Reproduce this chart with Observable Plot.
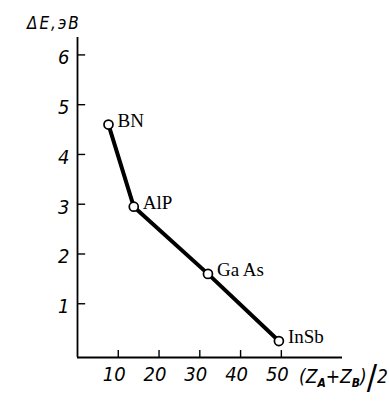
<!DOCTYPE html>
<html><head><meta charset="utf-8">
<script src="https://cdn.jsdelivr.net/npm/d3@7"></script>
<script src="https://cdn.jsdelivr.net/npm/@observablehq/plot@0.6"></script>
<style>
body{margin:0;background:#fff;}
svg{font-family:"Liberation Sans Narrow","DejaVu Sans Condensed","Liberation Sans",sans-serif;}
</style>
</head><body>
<div id="chart"></div>
<script>
const compounds = ["BN", "AlP", "Ga As", "InSb"];
const zMean = [7.6, 13.8, 32, 49.4];
const gapEV = [4.6, 2.95, 1.6, 0.25];
const xTicks = [10, 20, 30, 40, 50];
const yTicks = [1, 2, 3, 4, 5, 6];
const yLabel = "ΔE,эВ";

const data = compounds.map((c, i) => ({name: c, x: zMean[i], y: gapEV[i]}));

const W = 389, H = 402;
const plot = Plot.plot({
  width: W, height: H,
  marginLeft: 77, marginRight: 47, marginTop: 37, marginBottom: 45,
  x: {domain: [0, 65]},
  y: {domain: [-0.08, 6.35]},
  style: {fontSize: "20px", background: "#fff", color: "#000"},
  marks: [
    Plot.ruleX([0], {y1: -0.08, y2: 6.35, stroke: "#000", strokeWidth: 1.8}),
    Plot.ruleY([-0.08], {x1: 0, x2: 65, stroke: "#000", strokeWidth: 1.8}),
    Plot.ruleY(yTicks, {x1: 0, x2: 2, stroke: "#000", strokeWidth: 1.4}),
    Plot.ruleX(xTicks, {y1: -0.08, y2: 0.06, stroke: "#000", strokeWidth: 1.4}),
    Plot.axisY(yTicks, {tickSize: 0, tickPadding: 8, fontStyle: "italic", dy: 3,
      label: null, tickFormat: d => String(d)}),
    Plot.axisX(xTicks, {tickSize: 0, tickPadding: 9, fontStyle: "italic", dx: -4,
      label: null, anchor: "bottom", tickFormat: d => String(d)}),
    Plot.line(data, {x: "x", y: "y", stroke: "#000", strokeWidth: 4, strokeLinejoin: "round"}),
    Plot.dot(data, {x: "x", y: "y", r: 4.5, fill: "#fff", stroke: "#000", strokeWidth: 1.7}),
    Plot.text(data, {x: "x", y: "y", text: "name", textAnchor: "start", dx: 9, dy: -4,
      fontFamily: "Liberation Serif", fontSize: 19, fill: "#000"})
  ]
});
document.getElementById("chart").appendChild(plot);

const svg = d3.select(plot);
svg.append("text")
  .attr("x", 27).attr("y", 29).attr("text-anchor", "start")
  .attr("font-style", "italic").attr("font-size", 17).attr("letter-spacing", 2)
  .attr("fill", "#000")
  .text(yLabel);

const xl = svg.append("text")
  .attr("x", 299).attr("y", 383).attr("text-anchor", "start")
  .attr("font-style", "italic").attr("font-size", 19).attr("fill", "#000");
xl.append("tspan").text("(Z");
xl.append("tspan").attr("font-size", 12).attr("font-weight", "bold").attr("dy", 4).text("A");
xl.append("tspan").attr("dy", -4).text("+Z");
xl.append("tspan").attr("font-size", 12).attr("font-weight", "bold").attr("dy", 4).text("B");
xl.append("tspan").attr("dy", -4).text(")");
xl.append("tspan").attr("font-size", 34).attr("font-style", "normal").attr("dy", 6).text("/");
xl.append("tspan").attr("dy", -6).text("2");
</script>
</body></html>
